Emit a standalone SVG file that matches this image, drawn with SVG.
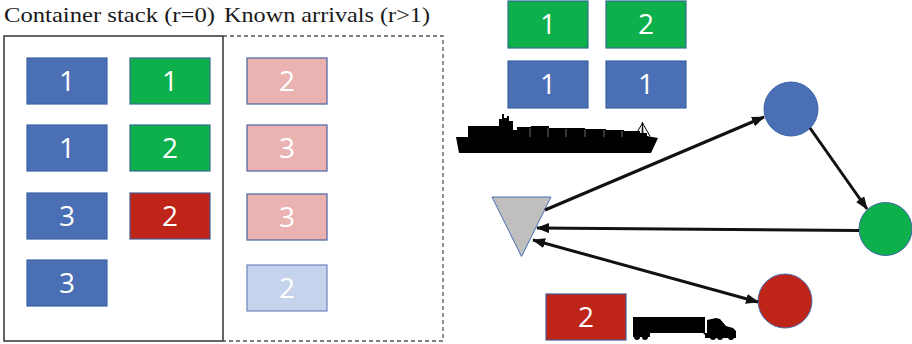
<svg xmlns="http://www.w3.org/2000/svg" width="912" height="344" viewBox="0 0 912 344">
  <defs>
    <style>
      .title { font-family: "Liberation Serif", "DejaVu Serif", serif; font-size: 21px; fill: #1a1a1a; }
      .num { font-family: "Open Sans", "Liberation Sans", sans-serif; font-size: 28px; fill: #ffffff; text-anchor: middle; }
      .box { stroke-width: 1.2; }
      .blue { fill: #4A6FB5; stroke: #3D63A6; }
      .green { fill: #0DB04B; stroke: #2F6E8F; }
      .red { fill: #BF2418; stroke: #4A5B8F; }
      .pink { fill: #EAB3B2; stroke: #4A62A0; }
      .pale { fill: #C6D3EC; stroke: #6E86BF; }
      .edge { stroke: #111111; stroke-width: 3; fill: none; }
      .silhouette { fill: #000000; }
    </style>
    <marker id="arrow" viewBox="0 0 13 10" refX="12" refY="5" markerWidth="13" markerHeight="10" markerUnits="userSpaceOnUse" orient="auto-start-reverse">
      <path d="M0,0 L13,5 L0,10 z" fill="#111111"/>
    </marker>
  </defs>
  <rect width="912" height="344" fill="#ffffff"/>

  <!-- headings -->
  <text class="title" x="4" y="22" textLength="211" lengthAdjust="spacingAndGlyphs">Container stack (r=0)</text>
  <text class="title" x="224" y="22" textLength="206" lengthAdjust="spacingAndGlyphs">Known arrivals (r&gt;1)</text>

  <!-- yard frames -->
  <g id="stack-frame">
    <rect x="4" y="36" width="219" height="305" fill="none" stroke="#333333" stroke-width="1.5"/>
  </g>
  <g id="arrivals-frame">
    <path d="M223,36 H443 V341 H223" fill="none" stroke="#555555" stroke-width="1.3" stroke-dasharray="4,3"/>
  </g>

  <!-- container stack -->
  <g id="c-1-1"><rect class="box blue" x="27" y="58" width="80" height="46"/><text class="num" x="67" y="91">1</text></g>
  <g id="c-1-2"><rect class="box blue" x="27" y="125" width="80" height="46"/><text class="num" x="67" y="158">1</text></g>
  <g id="c-1-3"><rect class="box blue" x="27" y="193" width="80" height="46"/><text class="num" x="67" y="226">3</text></g>
  <g id="c-1-4"><rect class="box blue" x="27" y="260" width="80" height="46"/><text class="num" x="67" y="293">3</text></g>
  <g id="c-2-1"><rect class="box green" x="130" y="58" width="80" height="46"/><text class="num" x="170" y="91">1</text></g>
  <g id="c-2-2"><rect class="box green" x="130" y="125" width="80" height="46"/><text class="num" x="170" y="158">2</text></g>
  <g id="c-2-3"><rect class="box red" x="130" y="193" width="80" height="46"/><text class="num" x="170" y="226">2</text></g>

  <!-- known arrivals -->
  <g id="a-1"><rect class="box pink" x="247" y="58" width="80" height="46"/><text class="num" x="287" y="91">2</text></g>
  <g id="a-2"><rect class="box pink" x="247" y="125" width="80" height="46"/><text class="num" x="287" y="158">3</text></g>
  <g id="a-3"><rect class="box pink" x="247" y="194" width="80" height="46"/><text class="num" x="287" y="227">3</text></g>
  <g id="a-4"><rect class="box pale" x="247" y="265" width="80" height="46"/><text class="num" x="287" y="298">2</text></g>

  <!-- vessel load -->
  <g id="v-1"><rect class="box green" x="508" y="1" width="80" height="47"/><text class="num" x="548" y="34">1</text></g>
  <g id="v-2"><rect class="box green" x="606" y="1" width="80" height="47"/><text class="num" x="646" y="34">2</text></g>
  <g id="v-3"><rect class="box blue" x="508" y="61" width="80" height="47"/><text class="num" x="548" y="94">1</text></g>
  <g id="v-4"><rect class="box blue" x="606" y="61" width="80" height="47"/><text class="num" x="646" y="94">1</text></g>

  <!-- container ship -->
  <g id="ship">
    <path class="silhouette" d="M459,153 L456,137 L468,137 L468,126 L499,126 L499,119 L502,119 L502,114 L504,114 L504,118 L507,118 L507,116 L509,116 L509,121 L513,121 L513,130 L517,130 L517,127 L531,127 L531,126 L549,126 L549,128 L585,128 L585,129 L606,129 L606,130 L624,130 L624,131 L640,131 L640,133 L647,133 L647,136 L658,138 L651,153 Z"/>
    <path d="M642,134 L642.5,122 L643,134 M642.5,123 L636,134 M642.5,123 L650,136" stroke="#000" stroke-width="1" fill="none"/>
    <path d="M530,128 V137 M548,128 V137 M566,129 V137 M585,130 V137 M604,130 V137 M622,131 V137" stroke="#ffffff" stroke-width="0.6" opacity="0.7"/>
  </g>

  <!-- truck with one container -->
  <g id="t-1"><rect class="box red" x="546" y="294" width="80" height="46"/><text class="num" x="586" y="327">2</text></g>
  <g id="truck">
    <path class="silhouette" d="M633,317 H705 V333 H650 V337 H633 Z"/>
    <circle class="silhouette" cx="637" cy="337" r="3"/>
    <circle class="silhouette" cx="645" cy="337" r="3"/>
    <path class="silhouette" d="M703,333 H707 V320 L716,318 L720,319 L726,326 L733,328 L736,331 V338 H705 V335 Z"/>
    <circle class="silhouette" cx="713" cy="337" r="3"/>
    <circle class="silhouette" cx="720" cy="337" r="3"/>
    <circle class="silhouette" cx="731" cy="337" r="3"/>
  </g>

  <!-- network nodes -->
  <g id="terminal">
    <polygon points="492,197 551,197 521.5,256.5" fill="#BFBFBF" stroke="#4A6FB5" stroke-width="1"/>
  </g>
  <g id="node-blue">
    <circle cx="791" cy="109" r="27" fill="#4A6FB5" stroke="#3D63A6" stroke-width="1"/>
  </g>
  <g id="node-green">
    <circle cx="885.5" cy="229" r="26.5" fill="#0DB04B" stroke="#3D63A6" stroke-width="1"/>
  </g>
  <g id="node-red">
    <circle cx="785" cy="301" r="27" fill="#BF2418" stroke="#4A6FB5" stroke-width="1"/>
  </g>

  <!-- connectors -->
  <g id="connectors">
    <line class="edge" x1="545" y1="210" x2="764" y2="117" marker-end="url(#arrow)"/>
    <line class="edge" x1="810" y1="128" x2="867" y2="209" marker-end="url(#arrow)"/>
    <line class="edge" x1="859" y1="230.5" x2="537" y2="228" marker-end="url(#arrow)"/>
    <line class="edge" x1="533" y1="240" x2="758" y2="302" marker-start="url(#arrow)" marker-end="url(#arrow)"/>
  </g>
</svg>
